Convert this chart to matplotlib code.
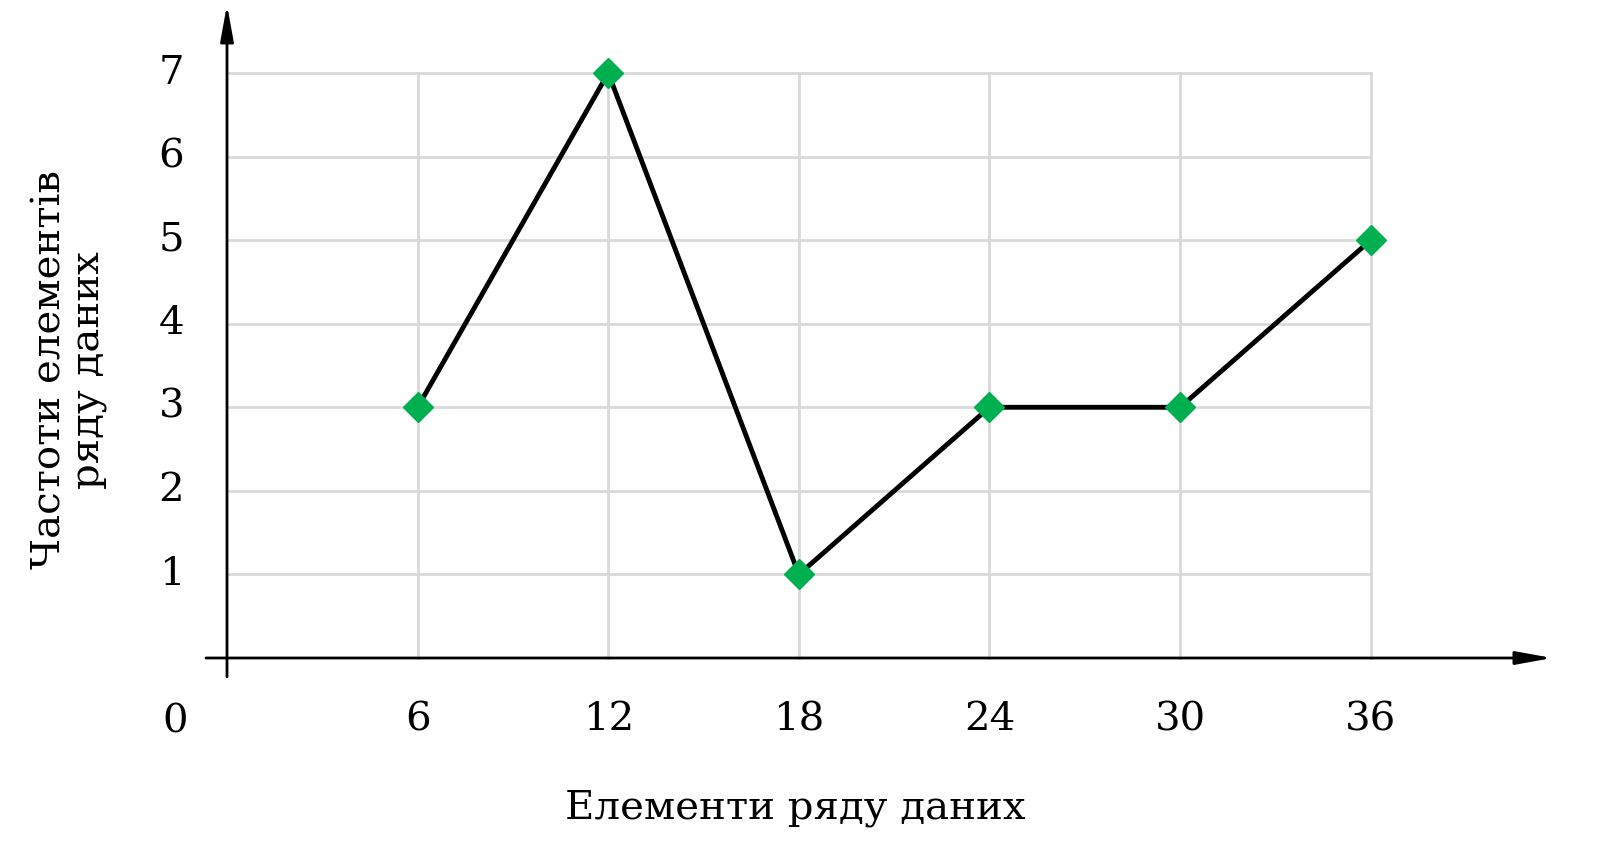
import matplotlib
matplotlib.use('Agg')
import matplotlib.pyplot as plt

x_vals = [6, 12, 18, 24, 30, 36]
y_vals = [3, 7, 1, 3, 3, 5]
y_ticks = [1, 2, 3, 4, 5, 6, 7]
x_label = 'Елементи ряду даних'
y_label = 'Частоти елементів\nряду даних'

plt.rcParams['font.family'] = ['DejaVu Serif']

fig = plt.figure(figsize=(16.04, 8.56), dpi=100)
ax = fig.add_axes([0, 0, 1, 1])
sx, sy = 31.77, 83.57
ax.set_xlim(-227 / sx, (1604 - 227) / sx)
ax.set_ylim((658 - 856) / sy, 658 / sy)
ax.axis('off')

# grid
for xv in x_vals:
    ax.plot([xv, xv], [0, 7], color='#d9d9d9', lw=2, zorder=1)
for yv in y_ticks:
    ax.plot([0, 36], [yv, yv], color='#d9d9d9', lw=2, zorder=1)

# axes with arrows
ax.annotate('', xy=(41.8, 0), xytext=(-0.75, 0),
            arrowprops=dict(arrowstyle='-|>,head_length=2.2,head_width=0.4', color='black', lw=2))
ax.annotate('', xy=(0, 7.85), xytext=(0, -0.26),
            arrowprops=dict(arrowstyle='-|>,head_length=2.2,head_width=0.4', color='black', lw=2))

ax.plot(x_vals, y_vals, color='black', lw=3.5, zorder=3)
ax.plot(x_vals, y_vals, linestyle='none', marker='D', markersize=15,
        color='#00b050', zorder=4)

fs = 29
for xv in x_vals:
    ax.text(xv, -0.74, str(xv), ha='center', va='center', fontsize=fs)
ax.text(-1.64, -0.76, '0', ha='center', va='center', fontsize=fs)
for yv in y_ticks:
    ax.text(-1.75, yv, str(yv), ha='center', va='center', fontsize=fs)

ax.text(17.9, -1.8, x_label, ha='center', va='center', fontsize=fs)
ax.text(-4.95, 3.45, y_label, ha='center', va='center', rotation=90,
        fontsize=fs, linespacing=1.05)

fig.savefig('out.png', dpi=100)
